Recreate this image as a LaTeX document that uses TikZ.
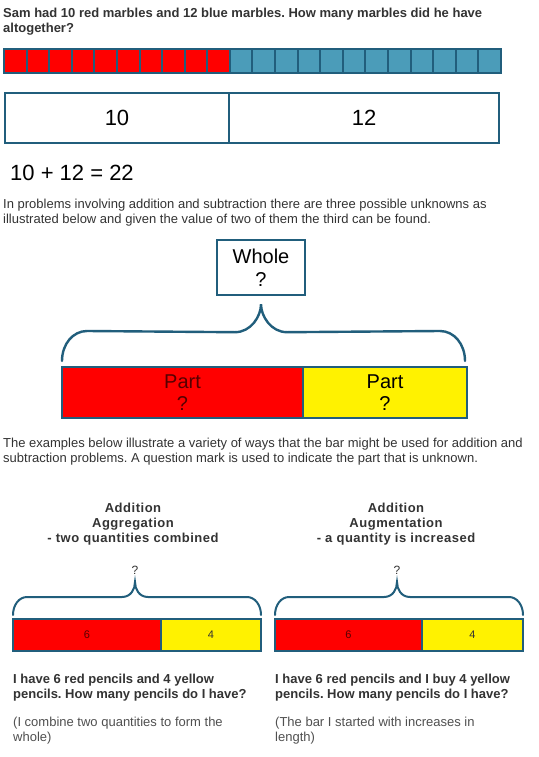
\documentclass[tikz,border=0pt]{standalone}
\usepackage{fontspec}
\setmainfont{Liberation Sans}
\usepackage{xcolor}
\usepackage{tikz}
\usetikzlibrary{positioning,calc}
\definecolor{barline}{HTML}{215E7C}
\definecolor{cellblue}{HTML}{4B9CB9}
\definecolor{ink}{HTML}{333333}
\definecolor{softink}{HTML}{505050}
\definecolor{darkred}{HTML}{560000}
\frenchspacing

\begin{document}
\begin{tikzpicture}[x=1pt,y=-1pt,
    txt/.style={anchor=north west,inner sep=0pt,align=left,text=ink,font=\fontsize{13}{15}\selectfont},
    boldtxt/.style={txt,font=\fontsize{13}{15}\selectfont\bfseries},
    head/.style={anchor=north,inner sep=0pt,align=center,text=ink,font=\fontsize{13}{15}\selectfont\bfseries\addfontfeatures{LetterSpace=4}},
    numbox/.style={draw=barline,line width=2.4pt,fill=white,inner sep=0pt,outer sep=0pt,minimum height=50pt,font=\fontsize{22}{26}\selectfont},
    partbox/.style={draw=barline,line width=2.4pt,inner sep=0pt,outer sep=0pt,minimum height=51pt,align=center,font=\fontsize{20}{22}\selectfont},
    smallbox/.style={draw=barline,line width=2pt,inner sep=0pt,outer sep=0pt,minimum height=32pt,font=\fontsize{11}{13}\selectfont},
    brace/.style={draw=barline,line width=2.4pt,line cap=round},
    qmark/.style={inner sep=0pt,text=ink,font=\fontsize{12}{14}\selectfont}]
  \fill[white] (0,0) rectangle (538,757);
  \useasboundingbox (0,0) rectangle (538,757);

  \node[boldtxt] (title) at (3,7.5) {Sam had 10 red marbles and 12 blue marbles. How many marbles did he have\\altogether?};

  % marbles
  \fill[barline] (3,48) rectangle (502,74);
  \foreach \i in {0,...,9} \fill[red] ({5+\i*22.59},50) rectangle ({25.59+\i*22.59},72);
  \foreach \i in {10,...,21} \fill[cellblue] ({5+\i*22.59},50) rectangle ({25.59+\i*22.59},72);

  \node[numbox,minimum width=224pt] (ten) at (117,118) {10};
  \node[numbox,minimum width=270pt,right=0pt of ten] (twelve) {12};

  \node[anchor=base west,inner sep=0pt,font=\fontsize{22}{26}\selectfont] (sum) at (10,180) {10 + 12 = 22};

  \node[txt] (intro) at (3,198.5) {In problems involving addition and subtraction there are three possible unknowns as\\illustrated below and given the value of two of them the third can be found.};

  % whole and parts
  \node[draw=barline,line width=2.4pt,fill=white,inner sep=0pt,minimum width=88pt,minimum height=55pt,align=center,font=\fontsize{20}{23}\selectfont] (whole) at (261,267.5) {Whole\\?};
  \node[partbox,fill=red,text=darkred,minimum width=241pt] (partL) at (182.5,392.5) {Part\\?};
  \node[partbox,fill=yellow,minimum width=164pt,right=0pt of partL] (partR) {Part\\?};
  \coordinate (tip) at ([yshift=-8pt]whole.south);
  \coordinate (bl) at ([yshift=6pt]partL.north west);
  \coordinate (br) at ([yshift=6pt,xshift=-2pt]partR.north east);
  \draw[brace] (bl) .. controls +(0,-17) and +(-14,0) .. ++(25,-30) -- ($(tip)+(-26,28)$)
    .. controls +(16,0) and +(0,12) .. (tip) .. controls +(0,12) and +(-16,0) .. ++(26,28)
    -- ($(br)+(-25,-30)$) .. controls +(14,0) and +(0,-17) .. (br);

  \node[txt] (examples) at (3,437.5) {The examples below illustrate a variety of ways that the bar might be used for addition and\\subtraction problems. A question mark is used to indicate the part that is unknown.};

  % aggregation
  \node[head] (aggr) at (133,502.5) {Addition\\Aggregation\\- two quantities combined};
  \node[qmark] (qA) at (135,570) {?};
  \node[smallbox,fill=red,text=darkred,minimum width=148pt] (aggrL) at (87,635) {6};
  \node[smallbox,fill=yellow,text=ink,minimum width=100pt,right=0pt of aggrL] (aggrR) {4};
  \coordinate (tipA) at (135,582);
  \coordinate (blA) at ([yshift=4pt]aggrL.north west);
  \coordinate (brA) at ([yshift=4pt]aggrR.north east);
  \draw[brace,line width=2pt] (blA) .. controls +(0,-10) and +(-8,0) .. ++(14,-18) -- ($(tipA)+(-13,15)$)
    .. controls +(9,0) and +(0,7) .. (tipA) .. controls +(0,7) and +(-9,0) .. ++(13,15)
    -- ($(brA)+(-14,-18)$) .. controls +(8,0) and +(0,-10) .. (brA);
  \node[boldtxt] (aggrQ) at (13,673.5) {I have 6 red pencils and 4 yellow\\pencils. How many pencils do I have?};
  \node[txt,text=softink] (aggrN) at (13,716.5) {(I combine two quantities to form the\\whole)};

  % augmentation
  \node[head] (augm) at (396,502.5) {Addition\\Augmentation\\- a quantity is increased};
  \node[qmark] (qB) at (397,570) {?};
  \node[smallbox,fill=red,text=darkred,minimum width=147pt] (augmL) at (348.5,635) {6};
  \node[smallbox,fill=yellow,text=ink,minimum width=101pt,right=0pt of augmL] (augmR) {4};
  \coordinate (tipB) at (397,582);
  \coordinate (blB) at ([yshift=4pt]augmL.north west);
  \coordinate (brB) at ([yshift=4pt]augmR.north east);
  \draw[brace,line width=2pt] (blB) .. controls +(0,-10) and +(-8,0) .. ++(14,-18) -- ($(tipB)+(-13,15)$)
    .. controls +(9,0) and +(0,7) .. (tipB) .. controls +(0,7) and +(-9,0) .. ++(13,15)
    -- ($(brB)+(-14,-18)$) .. controls +(8,0) and +(0,-10) .. (brB);
  \node[boldtxt] (augmQ) at (275,673.5) {I have 6 red pencils and I buy 4 yellow\\pencils. How many pencils do I have?};
  \node[txt,text=softink] (augmN) at (275,716.5) {(The bar I started with increases in\\length)};
\end{tikzpicture}
\end{document}
